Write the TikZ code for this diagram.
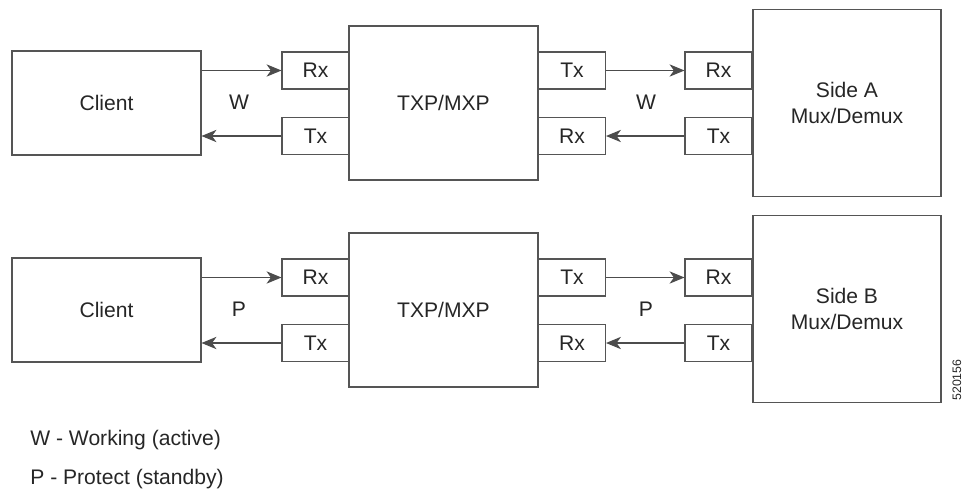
\documentclass[tikz,border=0pt]{standalone}
\usepackage{fontspec}
\setmainfont{Liberation Sans}
\usetikzlibrary{arrows.meta}
\definecolor{linegray}{HTML}{555555}
\definecolor{textgray}{HTML}{262626}

\begin{document}
\begin{tikzpicture}
[x=0.02cm,y=-0.02cm,%
  every node/.style={shape=rectangle,inner sep=0pt,text=textgray},%
  unit/.style={draw=linegray,line width=0.6pt},%
  client/.style={unit,minimum width=3.78cm,minimum height=2.08cm},%
  card/.style={unit,minimum width=3.78cm,minimum height=3.08cm},%
  muxbox/.style={unit,minimum width=3.76cm,minimum height=3.74cm,align=center},%
  port/.style={unit,minimum width=1.34cm,minimum height=0.74cm},%
  link/.style={draw=black!70,line width=0.6pt,-{Stealth[length=8.5pt,width=7pt,inset=2.5pt]}}]
\useasboundingbox (0,0) rectangle (964,491);
\fontsize{12}{14.5}\selectfont
% working path
\node[client] (clientA) at (106.5,103) {Client};
\node[card] (cardA) at (443.5,103) {TXP/MXP};
\node[muxbox] (muxA) at (847,103) {Side A\\Mux/Demux};
\node[port] (rxA1) at (315.5,70.5) {Rx};
\node[port] (txA1) at (315.5,136) {Tx};
\node[port] (txA2) at (572,70.5) {Tx};
\node[port] (rxA2) at (572,136) {Rx};
\node[port] (rxA3) at (718.5,70.5) {Rx};
\node[port] (txA3) at (718.5,136) {Tx};
\node (wA1) at (239,102) {W};
\node (wA2) at (646,102) {W};
% protect path
\node[client] (clientB) at (106.5,310) {Client};
\node[card] (cardB) at (443.5,310) {TXP/MXP};
\node[muxbox] (muxB) at (847,309) {Side B\\Mux/Demux};
\node[port] (rxB1) at (315.5,277.5) {Rx};
\node[port] (txB1) at (315.5,343) {Tx};
\node[port] (txB2) at (572,277.5) {Tx};
\node[port] (rxB2) at (572,343) {Rx};
\node[port] (rxB3) at (718.5,277.5) {Rx};
\node[port] (txB3) at (718.5,343) {Tx};
\node (pB1) at (239,309) {P};
\node (pB2) at (646,309) {P};
% connectors
\draw[link] (clientA.east |- rxA1.west) -- (rxA1.west);
\draw[link] (txA1.west) -- (clientA.east |- txA1.west);
\draw[link] (txA2.east) -- (rxA3.west);
\draw[link] (txA3.west) -- (rxA2.east);
\draw[link] (clientB.east |- rxB1.west) -- (rxB1.west);
\draw[link] (txB1.west) -- (clientB.east |- txB1.west);
\draw[link] (txB2.east) -- (rxB3.west);
\draw[link] (txB3.west) -- (rxB2.east);
% legend
\node[anchor=west] (legW) at (30,440) {W - Working (active)};
\node[anchor=west] (legP) at (30,479) {P - Protect (standby)};
\node[rotate=90,font=\fontsize{7}{8}\selectfont] (fignum) at (957,380) {520156};
\end{tikzpicture}
\end{document}
